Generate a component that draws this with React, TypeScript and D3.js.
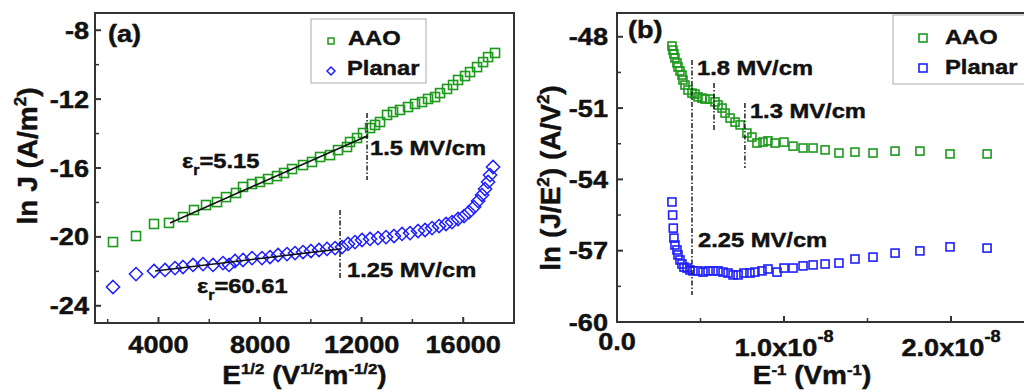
import * as d3 from 'd3'

const FONT = '"Liberation Sans", Arial, Helvetica, sans-serif'
const GREEN = '#1c9a1c'
const BLUE = '#1f1fff'
const INK = '#111'

// ---- panel (a): ln J vs E^1/2 ----
const aaoSqrtE = [2209, 3115, 3824, 4414, 4966, 5399, 5872, 6305, 6660, 7053, 7329, 7683, 7999, 8314, 8668, 8944, 9259, 9692, 10047, 10362, 10756, 11071, 11425, 11543, 11819, 12055, 12331, 12528, 12725, 13001, 13237, 13513, 13828, 14103, 14379, 14615, 14891, 15088, 15364, 15600, 15797, 16073, 16270, 16545, 16782, 16979, 17254]
const aaoLnJ = [-20.3, -19.95, -19.25, -19.19, -18.85, -18.44, -18.15, -17.98, -17.69, -17.45, -17.1, -16.93, -16.81, -16.64, -16.47, -16.29, -16.06, -15.83, -15.65, -15.36, -15.25, -14.96, -14.78, -14.49, -14.26, -13.97, -13.68, -13.5, -13.33, -12.92, -12.75, -12.63, -12.46, -12.28, -12.17, -11.99, -11.88, -11.65, -11.41, -11.18, -10.89, -10.66, -10.43, -10.14, -9.85, -9.56, -9.32]
const planarSqrtE = [2209, 3115, 3824, 4257, 4651, 4966, 5360, 5754, 6148, 6541, 6778, 7014, 7329, 7684, 8077, 8393, 8708, 9062, 9377, 9692, 10007, 10322, 10637, 10953, 11228, 11465, 11740, 12016, 12331, 12646, 12961, 13276, 13591, 13906, 14222, 14497, 14773, 15049, 15324, 15561, 15797, 16033, 16230, 16427, 16585, 16742, 16860, 16978, 17057, 17175]
const planarLnJ = [-22.91, -22.16, -21.98, -21.92, -21.81, -21.75, -21.63, -21.58, -21.63, -21.52, -21.63, -21.4, -21.34, -21.23, -21.23, -21.17, -21.05, -21.0, -20.94, -20.88, -20.82, -20.76, -20.7, -20.65, -20.59, -20.41, -20.3, -20.18, -20.12, -20.07, -20.01, -19.95, -19.83, -19.78, -19.66, -19.6, -19.49, -19.37, -19.25, -19.14, -18.96, -18.79, -18.56, -18.27, -17.92, -17.57, -17.22, -16.81, -16.41, -15.94]
const aaoFitA = [[4454, -19.19], [12213, -14.14]]
const planarFitA = [[3863, -21.98], [11150, -20.7]]
const markLinesA = [{ x: 12213, y0: -12.8, y1: -16.7 }, { x: 11150, y0: -18.44, y1: -22.39 }]
const ticksAX = [4000, 8000, 12000, 16000]
const ticksAY = [-24, -20, -16, -12, -8]

// ---- panel (b): ln(J/E^2) vs 1/E, x in units of 1e-8 V^-1 m ----
const aaoInvE = [0.329, 0.335, 0.341, 0.347, 0.359, 0.365, 0.377, 0.389, 0.395, 0.407, 0.425, 0.449, 0.467, 0.485, 0.509, 0.527, 0.557, 0.587, 0.605, 0.629, 0.647, 0.677, 0.707, 0.737, 0.778, 0.808, 0.838, 0.874, 0.904, 0.946, 1.0, 1.054, 1.114, 1.174, 1.246, 1.329, 1.425, 1.533, 1.665, 1.814, 1.994, 2.216]
const aaoLnJE2 = [-48.39, -48.56, -48.72, -48.89, -49.1, -49.27, -49.44, -49.61, -49.82, -50.03, -50.24, -50.37, -50.41, -50.53, -50.58, -50.62, -50.62, -50.74, -50.87, -51.0, -51.21, -51.42, -51.59, -51.71, -52.05, -52.22, -52.47, -52.43, -52.38, -52.47, -52.43, -52.6, -52.68, -52.68, -52.76, -52.89, -52.85, -52.89, -52.81, -52.81, -52.93, -52.93]
const planarInvE = [0.329, 0.333, 0.337, 0.341, 0.347, 0.359, 0.365, 0.377, 0.389, 0.401, 0.419, 0.437, 0.455, 0.485, 0.515, 0.545, 0.575, 0.605, 0.635, 0.665, 0.695, 0.725, 0.76, 0.796, 0.826, 0.868, 0.904, 0.958, 1.0, 1.054, 1.114, 1.174, 1.246, 1.329, 1.425, 1.533, 1.665, 1.814, 1.994, 2.216]
const planarLnJE2 = [-54.95, -55.5, -56.05, -56.47, -56.76, -56.97, -57.18, -57.39, -57.56, -57.69, -57.73, -57.81, -57.85, -57.85, -57.9, -57.85, -57.85, -57.85, -57.9, -57.94, -58.02, -58.02, -57.94, -57.94, -57.9, -57.85, -57.77, -57.9, -57.73, -57.73, -57.64, -57.6, -57.56, -57.52, -57.35, -57.27, -57.1, -57.01, -56.84, -56.89]
const markLinesB = [{ x: 0.449, y0: -48.98, y1: -58.86 }, { x: 0.581, y0: -49.94, y1: -52.0 }, { x: 0.766, y0: -50.79, y1: -53.52 }]
const ticksBX = [0, 1, 2]
const ticksBY = [-60, -57, -54, -51, -48]

const SX = 1.13

const T = ({ x, y, size = 24, anchor = 'start', sx = SX, rotate = 0, children }: any) => (
    <text
        transform={`translate(${x},${y}) scale(${sx},1)${rotate ? ` rotate(${rotate})` : ''}`}
        fontSize={size}
        fontWeight="bold"
        fontFamily={FONT}
        textAnchor={anchor}
        fill={INK}
        stroke={INK}
        strokeWidth={0.45}
    >
        {children}
    </text>
)

const diamond = (r: number) => `M0,${-r}L${r},0L0,${r}L${-r},0Z`

const Frame = ({ x, y }: any) => {
    const [x0, x1] = x.range()
    const [y0, y1] = y.range()
    return <rect x={x0} y={y1} width={x1 - x0} height={y0 - y1} fill="none" stroke="#333" strokeWidth={2} />
}

const App = () => {
    const width = 1024
    const height = 390

    const xA = d3.scaleLinear().domain([1500, 18000]).range([95, 514])
    const yA = d3.scaleLinear().domain([-25, -7]).range([323, 13])
    const xB = d3.scaleLinear().domain([0, 2.5]).range([617, 1034.5])
    const yB = d3.scaleLinear().domain([-60, -47]).range([322, 13])

    const line = (x: any, y: any) => d3.line<number[]>().x(d => x(d[0])).y(d => y(d[1]))

    const minorAX = d3.range(2000, 18001, 4000)
    const minorAY = d3.range(-22, -7, 4)
    const minorBX = d3.range(0.5, 2.6, 1)
    const minorBY = d3.range(-58.5, -47, 3)

    const dashDot = '5,2,1.5,2'

    return (
        <div style={{ position: 'fixed', left: 0, top: 0 }}>
            <svg width={width} height={height} style={{ display: 'block', background: '#fff' }}>
                {/* ===== panel (a) ===== */}
                <g>
                    {ticksAX.map(t => (
                        <g key={'ax' + t}>
                            <line x1={xA(t)} x2={xA(t)} y1={yA.range()[0]} y2={yA.range()[0] - 6} stroke="#333" strokeWidth={2} />
                            <T x={xA(t)} y={353} anchor="middle">{t}</T>
                        </g>
                    ))}
                    {minorAX.map(t => (
                        <line key={'amx' + t} x1={xA(t)} x2={xA(t)} y1={yA.range()[0]} y2={yA.range()[0] - 4} stroke="#333" strokeWidth={1.5} />
                    ))}
                    {ticksAY.map(t => (
                        <g key={'ay' + t}>
                            <line x1={xA.range()[0]} x2={xA.range()[0] + 6} y1={yA(t)} y2={yA(t)} stroke="#333" strokeWidth={2} />
                            <T x={89} y={yA(t) + 8.5} anchor="end">{t}</T>
                        </g>
                    ))}
                    {minorAY.map(t => (
                        <line key={'amy' + t} x1={xA.range()[0]} x2={xA.range()[0] + 4} y1={yA(t)} y2={yA(t)} stroke="#333" strokeWidth={1.5} />
                    ))}

                    {aaoSqrtE.map((v, i) => (
                        <rect key={'as' + i} x={xA(v) - 4.5} y={yA(aaoLnJ[i]) - 4.5} width={9} height={9} fill="none" stroke={GREEN} strokeWidth={1.6} />
                    ))}
                    {planarSqrtE.map((v, i) => (
                        <path key={'ap' + i} d={diamond(6.6)} transform={`translate(${xA(v)},${yA(planarLnJ[i])})`} fill="none" stroke={BLUE} strokeWidth={1.5} />
                    ))}

                    <path d={line(xA, yA)(aaoFitA)!} stroke={INK} strokeWidth={1.6} fill="none" />
                    <path d={line(xA, yA)(planarFitA)!} stroke={INK} strokeWidth={1.6} fill="none" />
                    {markLinesA.map((m, i) => (
                        <line key={'ml' + i} x1={xA(m.x)} x2={xA(m.x)} y1={yA(m.y0)} y2={yA(m.y1)} stroke={INK} strokeWidth={1.4} strokeDasharray={dashDot} />
                    ))}

                    <T x={xA.range()[0] + 13} y={42}>(a)</T>
                    <T x={xA(12213) + 3} y={yA(-15.25)} size={21}>1.5 MV/cm</T>
                    <T x={xA(11150) + 7} y={yA(-22.33)} size={21}>1.25 MV/cm</T>
                    <T x={xA(4927)} y={yA(-16.0)} size={21}>ε<tspan dy={7} fontSize={14}>r</tspan><tspan dy={-7}>=5.15</tspan></T>
                    <T x={xA(5517)} y={yA(-23.26)} size={21}>ε<tspan dy={7} fontSize={14}>r</tspan><tspan dy={-7}>=60.61</tspan></T>

                    {/* legend */}
                    <rect x={311} y={19} width={115} height={64} fill="#fff" stroke="#aaa" strokeWidth={1} />
                    <rect x={328} y={38} width={6} height={6} fill="none" stroke={GREEN} strokeWidth={1.5} />
                    <T x={348} y={45} size={21}>AAO</T>
                    <path d={diamond(4)} transform="translate(331,71)" fill="none" stroke={BLUE} strokeWidth={1.5} />
                    <T x={347} y={75} size={21}>Planar</T>

                    <Frame x={xA} y={yA} />

                    <T x={(95 + 514) / 2} y={384} size={25} sx={1.12} anchor="middle">
                        E<tspan dy={-10} fontSize={15}>1/2</tspan>
                        <tspan dy={10}> (V</tspan><tspan dy={-10} fontSize={15}>1/2</tspan>
                        <tspan dy={10}>m</tspan><tspan dy={-10} fontSize={15}>-1/2</tspan>
                        <tspan dy={10}>)</tspan>
                    </T>
                    <T x={37} y={156} size={28} sx={1} rotate={-90} anchor="middle">
                        ln J (A/m<tspan dy={-11} fontSize={17}>2</tspan><tspan dy={11}>)</tspan>
                    </T>
                </g>

                {/* ===== panel (b) ===== */}
                <g>
                    {ticksBX.map(t => (
                        <g key={'bx' + t}>
                            <line x1={xB(t)} x2={xB(t)} y1={yB.range()[0]} y2={yB.range()[0] - 6} stroke="#333" strokeWidth={2} />
                            {t === 0 ? (
                                <T x={xB(t)} y={350} anchor="middle">0.0</T>
                            ) : (
                                <T x={xB(t)} y={356} anchor="middle">
                                    {t.toFixed(1)}x10<tspan dy={-14} fontSize={16}>-8</tspan>
                                </T>
                            )}
                        </g>
                    ))}
                    {minorBX.map(t => (
                        <line key={'bmx' + t} x1={xB(t)} x2={xB(t)} y1={yB.range()[0]} y2={yB.range()[0] - 4} stroke="#333" strokeWidth={1.5} />
                    ))}
                    {ticksBY.map(t => (
                        <g key={'by' + t}>
                            <line x1={xB.range()[0]} x2={xB.range()[0] + 6} y1={yB(t)} y2={yB(t)} stroke="#333" strokeWidth={2} />
                            <T x={608} y={yB(t) + 8.5} anchor="end">{t}</T>
                        </g>
                    ))}
                    {minorBY.map(t => (
                        <line key={'bmy' + t} x1={xB.range()[0]} x2={xB.range()[0] + 4} y1={yB(t)} y2={yB(t)} stroke="#333" strokeWidth={1.5} />
                    ))}

                    {aaoInvE.map((v, i) => (
                        <rect key={'bs' + i} x={xB(v) - 4} y={yB(aaoLnJE2[i]) - 4} width={8} height={8} fill="none" stroke={GREEN} strokeWidth={1.6} />
                    ))}
                    {planarInvE.map((v, i) => (
                        <rect key={'bp' + i} x={xB(v) - 4} y={yB(planarLnJE2[i]) - 4} width={8} height={8} fill="none" stroke={BLUE} strokeWidth={1.6} />
                    ))}
                    {markLinesB.map((m, i) => (
                        <line key={'mb' + i} x1={xB(m.x)} x2={xB(m.x)} y1={yB(m.y0)} y2={yB(m.y1)} stroke={INK} strokeWidth={1.4} strokeDasharray={dashDot} />
                    ))}

                    <T x={xB.range()[0] + 11} y={38}>(b)</T>
                    <T x={xB(0.449) + 5} y={yB(-49.6)} size={21}>1.8 MV/cm</T>
                    <T x={xB(0.766) + 5} y={yB(-51.42)} size={21}>1.3 MV/cm</T>
                    <T x={xB(0.449) + 6} y={yB(-56.84)} size={21}>2.25 MV/cm</T>

                    {/* legend */}
                    <rect x={893} y={15} width={140} height={69} fill="#fff" stroke="#aaa" strokeWidth={1} />
                    <rect x={919} y={34} width={8} height={8} fill="none" stroke={GREEN} strokeWidth={1.6} />
                    <T x={945} y={44} size={21}>AAO</T>
                    <rect x={919} y={64} width={8} height={8} fill="none" stroke={BLUE} strokeWidth={1.6} />
                    <T x={945} y={74} size={21}>Planar</T>

                    <Frame x={xB} y={yB} />

                    <T x={812} y={384} size={25} sx={1.12} anchor="middle">
                        E<tspan dy={-9} fontSize={15}>-1</tspan>
                        <tspan dy={9}> (Vm</tspan><tspan dy={-9} fontSize={15}>-1</tspan>
                        <tspan dy={9}>)</tspan>
                    </T>
                    <T x={560} y={178} size={28} sx={1} rotate={-90} anchor="middle">
                        ln (J/E<tspan dy={-11} fontSize={17}>2</tspan><tspan dy={11}>) (A/V</tspan><tspan dy={-11} fontSize={17}>2</tspan><tspan dy={11}>)</tspan>
                    </T>
                </g>
            </svg>
        </div>
    )
}

export default App
